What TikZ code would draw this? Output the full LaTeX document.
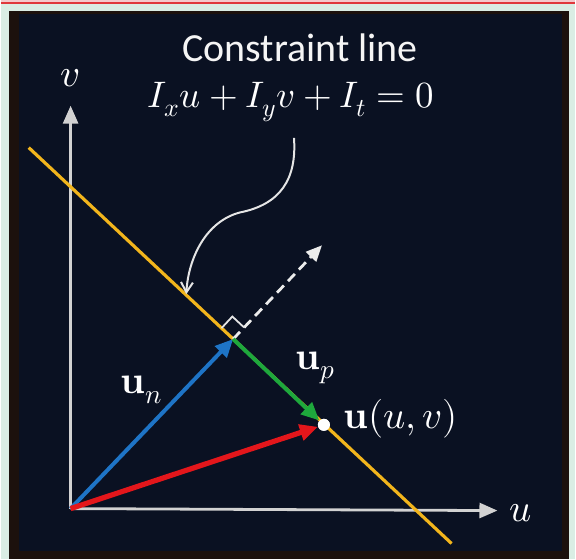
\documentclass[tikz,border=0pt]{standalone}
\usepackage{fontspec}
\setmainfont{Carlito}
\usepackage{unicode-math}
\usetikzlibrary{arrows.meta,positioning,calc}

\definecolor{mint}{HTML}{DAEDE4}
\definecolor{pinkstrip}{HTML}{F4CACD}
\definecolor{redline}{HTML}{E0383C}
\definecolor{rim}{HTML}{1C110D}
\definecolor{panel}{HTML}{0A1122}
\definecolor{axisgray}{HTML}{D2D2D2}
\definecolor{lineorange}{HTML}{F2B51C}
\definecolor{vblue}{HTML}{1E74C6}
\definecolor{vgreen}{HTML}{1EA83C}
\definecolor{vred}{HTML}{E3161B}

\begin{document}
\begin{tikzpicture}[
    x=0.5pt, y=-0.5pt,
    axis/.style={draw=axisgray, line width=1.4pt, -{Triangle[length=9pt,width=7.5pt]}},
    vec/.style={line width=2pt, -{Triangle[length=9pt,width=8pt]}},
    lbl/.style={text=white, font=\fontsize{19.5}{23}\selectfont, inner sep=0pt},
    hint/.style={draw=white!80!gray, line width=1pt, -{Straight Barb[length=5pt,width=6pt]}},
  ]
  % Background
  \fill[mint] (0,0) rectangle (576,561);
  \fill[pinkstrip] (0,0) rectangle (576,4);
  \draw[redline, line width=0.8pt] (0,3) -- (576,3);
  \fill[rim] (8,11) rectangle (570,561);
  \fill[panel] (18,14) rectangle (563,553);
  \useasboundingbox (0,0) rectangle (576,561);

  % Points
  \coordinate (O) at (70,510);
  \coordinate (vtip) at (70,106);
  \coordinate (utip) at (498,512);
  \coordinate (Ls) at (28,148);
  \coordinate (Le) at (452,545);
  \coordinate (F) at (233,340);
  \coordinate (dashend) at (322,246);
  \coordinate (hit) at (186,295);
  \node[circle, fill=white, inner sep=0pt, minimum size=6pt] (pt) at (324,426) {};

  % Axes
  \draw[axis] (O) -- (vtip);
  \draw[axis] (O) -- (utip);
  \node[lbl] (vlab) at (70,78) {$v$};
  \node[lbl] (ulab) at (521,515) {$u$};

  % Constraint line
  \draw[lineorange, line width=1.6pt] (Ls) -- (Le);
  \node[lbl, font=\fontsize{20}{24}\selectfont, text=white!92!gray] (title) at (300,48) {Constraint line};
  \node[lbl, font=\fontsize{18.5}{22}\selectfont] (eq) at (291,102) {$I_xu+I_yv+I_t=0$};
  \draw[hint] ([xshift=1.5pt,yshift=-8pt]eq.south) .. controls (297,180) and (280,205) .. (240,213)
    .. controls (205,222) and (188,260) .. (hit);

  % Vectors
  \draw[white!85!gray, line width=1.4pt, dash pattern=on 5pt off 3pt, -{Triangle[length=8pt,width=7pt]}] (F) -- (dashend);
  \draw[white!80!gray, line width=0.9pt] (221.3,329.1) -- (232.2,317.4) -- (243.9,328.3);
  \draw[vec, draw=vblue] (O) -- (F);
  \draw[vec, draw=vgreen] (F) -- (pt);
  \draw[vec, draw=vred, line width=2.6pt] (O) -- (pt);
  \node[fill=white, circle, inner sep=0pt, minimum size=6pt] at (pt) {};

  % Labels
  \node[lbl] (un) at (141,391) {$\symbf{u}_n$};
  \node[lbl] (up) at (316,369) {$\symbf{u}_p$};
  \node[lbl, anchor=west] (ulabel) at (343,420) {$\symbf{u}(u,v)$};
\end{tikzpicture}
\end{document}
